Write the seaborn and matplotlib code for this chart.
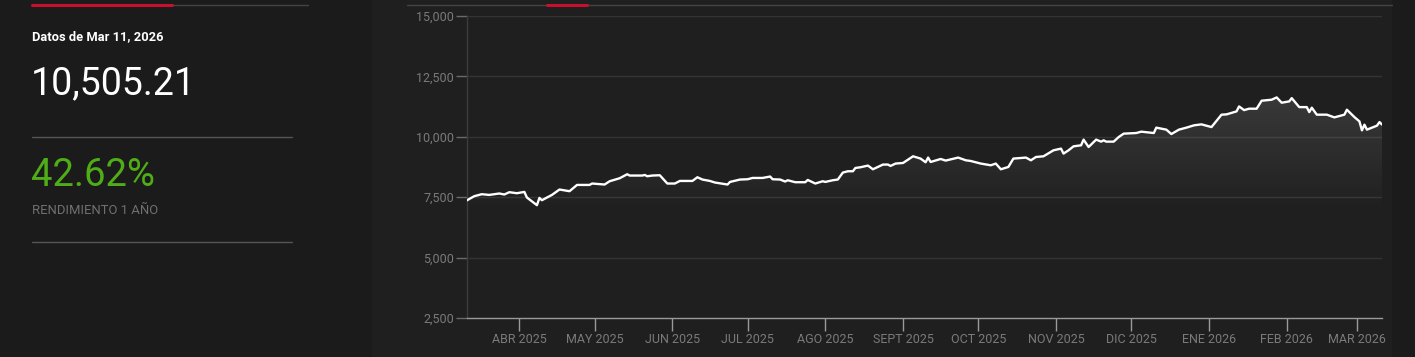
import numpy as np
import pandas as pd
import matplotlib
matplotlib.use("Agg")
import matplotlib.pyplot as plt
import matplotlib.dates as mdates
from matplotlib.patches import Rectangle
from matplotlib.lines import Line2D
import seaborn as sns

# ---------------- data ----------------
dates = [
    "2025-03-11", "2025-03-14", "2025-03-17", "2025-03-20", "2025-03-24", "2025-03-26",
    "2025-03-28", "2025-03-31", "2025-04-03", "2025-04-04", "2025-04-08", "2025-04-09",
    "2025-04-10", "2025-04-14", "2025-04-17", "2025-04-21", "2025-04-24", "2025-04-29",
    "2025-04-30", "2025-05-05", "2025-05-07", "2025-05-11", "2025-05-14", "2025-05-15",
    "2025-05-20", "2025-05-21", "2025-05-22", "2025-05-24", "2025-05-27", "2025-05-30",
    "2025-06-02", "2025-06-04", "2025-06-09", "2025-06-11", "2025-06-13", "2025-06-16",
    "2025-06-18", "2025-06-23", "2025-06-24", "2025-06-28", "2025-07-01", "2025-07-03",
    "2025-07-07", "2025-07-10", "2025-07-11", "2025-07-14", "2025-07-16", "2025-07-17",
    "2025-07-20", "2025-07-24", "2025-07-25", "2025-07-28", "2025-07-31", "2025-08-01",
    "2025-08-04", "2025-08-06", "2025-08-08", "2025-08-10", "2025-08-12", "2025-08-13",
    "2025-08-15", "2025-08-18", "2025-08-20", "2025-08-22", "2025-08-24", "2025-08-26",
    "2025-08-27", "2025-08-29", "2025-09-01", "2025-09-02", "2025-09-05", "2025-09-08",
    "2025-09-10", "2025-09-11", "2025-09-12", "2025-09-16", "2025-09-18", "2025-09-23",
    "2025-09-26", "2025-09-28", "2025-10-02", "2025-10-06", "2025-10-08", "2025-10-10",
    "2025-10-13", "2025-10-15", "2025-10-18", "2025-10-20", "2025-10-22", "2025-10-24",
    "2025-10-27", "2025-10-31", "2025-11-03", "2025-11-04", "2025-11-06", "2025-11-08",
    "2025-11-11", "2025-11-12", "2025-11-14", "2025-11-17", "2025-11-19", "2025-11-20",
    "2025-11-21", "2025-11-24", "2025-11-26", "2025-11-28", "2025-12-03", "2025-12-05",
    "2025-12-10", "2025-12-11", "2025-12-15", "2025-12-17", "2025-12-20", "2025-12-23",
    "2025-12-26", "2025-12-29", "2026-01-02", "2026-01-06", "2026-01-08", "2026-01-12",
    "2026-01-13", "2026-01-15", "2026-01-17", "2026-01-20", "2026-01-22", "2026-01-26",
    "2026-01-28", "2026-01-30", "2026-02-02", "2026-02-03", "2026-02-06", "2026-02-09",
    "2026-02-10", "2026-02-11", "2026-02-13", "2026-02-17", "2026-02-20", "2026-02-24",
    "2026-02-25", "2026-02-28", "2026-03-02", "2026-03-03", "2026-03-04", "2026-03-05",
    "2026-03-09", "2026-03-10", "2026-03-11",
]
values = [
    7366, 7541, 7624, 7595, 7653, 7612,
    7707, 7665, 7719, 7488, 7170, 7471,
    7376, 7595, 7818, 7748, 8008, 8008,
    8066, 8025, 8161, 8285, 8450, 8396,
    8396, 8421, 8367, 8396, 8409, 8066,
    8066, 8173, 8173, 8326, 8231, 8173,
    8107, 8025, 8132, 8231, 8243, 8297,
    8297, 8355, 8243, 8231, 8148, 8202,
    8120, 8120, 8214, 8066, 8161, 8132,
    8202, 8231, 8520, 8574, 8574, 8710,
    8739, 8809, 8656, 8751, 8851, 8851,
    8793, 8892, 8917, 8987, 9193, 9098,
    8946, 9140, 8958, 9082, 9016, 9140,
    9028, 8999, 8892, 8822, 8892, 8656,
    8751, 9098, 9123, 9140, 9028, 9164,
    9193, 9441, 9511, 9305, 9441, 9606,
    9648, 9883, 9577, 9883, 9800, 9854,
    9800, 9800, 9990, 10131, 10156, 10213,
    10156, 10379, 10296, 10114, 10296, 10379,
    10474, 10515, 10403, 10916, 10928, 11052,
    11258, 11105, 11163, 11163, 11494, 11535,
    11630, 11411, 11465, 11601, 11229, 11229,
    11023, 11205, 10916, 10916, 10804, 10916,
    11122, 10816, 10639, 10267, 10503, 10296,
    10461, 10610, 10505.21,
]
month_ticks = ["2025-04-01", "2025-05-01", "2025-06-01", "2025-07-01", "2025-08-01",
               "2025-09-01", "2025-10-01", "2025-11-01", "2025-12-01", "2026-01-01",
               "2026-02-01", "2026-03-01"]
month_labels = ["ABR 2025", "MAY 2025", "JUN 2025", "JUL 2025", "AGO 2025", "SEPT 2025",
                "OCT 2025", "NOV 2025", "DIC 2025", "ENE 2026", "FEB 2026", "MAR 2026"]
y_ticks = [2500, 5000, 7500, 10000, 12500, 15000]

date_label = "Datos de Mar 11, 2026"
last_value_text = "10,505.21"
return_text = "42.62%"
return_label = "RENDIMIENTO 1 AÑO"

df = pd.DataFrame({"fecha": pd.to_datetime(dates), "valor": values})

# ---------------- style ----------------
sns.set_theme(style="dark")
plt.rcParams["font.family"] = ["Roboto", "DejaVu Sans"]

W, H = 1415, 357
fig = plt.figure(figsize=(W / 100, H / 100), dpi=100, facecolor="#1b1b1b")

# chart panel background
fig.patches.append(Rectangle((372 / W, 0), (1392 - 372) / W, 1, transform=fig.transFigure,
                             facecolor="#1f1f1f", edgecolor="none", zorder=-5))

def fx(px):
    return px / W

def fy(py):
    return 1 - py / H

# top indicator lines
fig.add_artist(Line2D([fx(32), fx(308)], [fy(5), fy(5)], color="#444444", lw=1))
fig.add_artist(Line2D([fx(32), fx(172)], [fy(4.5), fy(4.5)], color="#c8102e", lw=2.2))
fig.add_artist(Line2D([fx(407), fx(1392)], [fy(5), fy(5)], color="#444444", lw=1))
fig.add_artist(Line2D([fx(547), fx(587)], [fy(4.5), fy(4.5)], color="#c8102e", lw=2.2))

# left panel texts
fig.text(fx(32), fy(37), date_label, color="white", fontsize=9.3, fontweight="bold",
         va="center", ha="left")
fig.text(fx(31), fy(84), last_value_text, color="white", fontsize=27, va="center", ha="left")
fig.add_artist(Line2D([fx(32), fx(292)], [fy(136.5), fy(136.5)], color="#555555", lw=1))
fig.text(fx(31), fy(175), return_text, color="#4fae17", fontsize=27.5, va="center", ha="left")
fig.text(fx(32), fy(211), return_label, color="#707070", fontsize=9.4, va="center", ha="left")
fig.add_artist(Line2D([fx(32), fx(292)], [fy(241.5), fy(241.5)], color="#555555", lw=1))

# chart axes
ax_l, ax_r, ax_t, ax_b = 466.7, 1382, 16, 318
ax = fig.add_axes([fx(ax_l), fy(ax_b), (ax_r - ax_l) / W, (ax_b - ax_t) / H], zorder=2)
ax.set_facecolor("none")

xmin, xmax = pd.Timestamp("2025-03-11"), pd.Timestamp("2026-03-11")
ax.set_xlim(xmin, xmax)
ax.set_ylim(2500, 15000)

# gradient fill under the line
poly = ax.fill_between(df["fecha"], df["valor"], 2500, color="none", lw=0)
ys = np.linspace(2500, 15000, 400)
alpha = np.clip((ys - 6800) / (11700 - 6800), 0, 1.2) * 0.12
grad = np.zeros((400, 1, 4))
grad[..., 0:3] = 1.0
grad[:, 0, 3] = alpha
im = ax.imshow(grad, extent=[mdates.date2num(xmin), mdates.date2num(xmax), 2500, 15000],
               origin="lower", aspect="auto", zorder=1, interpolation="bilinear")
im.set_clip_path(poly.get_paths()[0], transform=ax.transData)

sns.lineplot(data=df, x="fecha", y="valor", ax=ax, color="white", linewidth=1.7, zorder=3)

ax.set_xlim(xmin, xmax)
ax.set_ylim(2500, 15000)
ax.set_xlabel("")
ax.set_ylabel("")
ax.set_xticks(pd.to_datetime(month_ticks))
ax.set_xticklabels(month_labels)
ax.set_yticks(y_ticks)
ax.set_yticklabels([f"{v:,}" for v in y_ticks])

ax.grid(False)
for v in y_ticks[1:]:
    ax.axhline(v, color="#343434", lw=1, zorder=0.5)

for s in ["top", "right"]:
    ax.spines[s].set_visible(False)
ax.spines["left"].set_color("#3c3c3c")
ax.spines["left"].set_linewidth(1)
ax.spines["bottom"].set_color("#9a9a9a")
ax.spines["bottom"].set_linewidth(1)

ax.tick_params(axis="x", colors="#9a9a9a", length=9, width=1, pad=2, labelsize=9,
               labelcolor="#7a7a7a", direction="out", bottom=True)
ax.tick_params(axis="y", colors="#6a6a6a", length=8, width=1, pad=1, labelsize=9,
               labelcolor="#7a7a7a", direction="out", left=True)

fig.savefig("out.png", dpi=100, facecolor=fig.get_facecolor())
